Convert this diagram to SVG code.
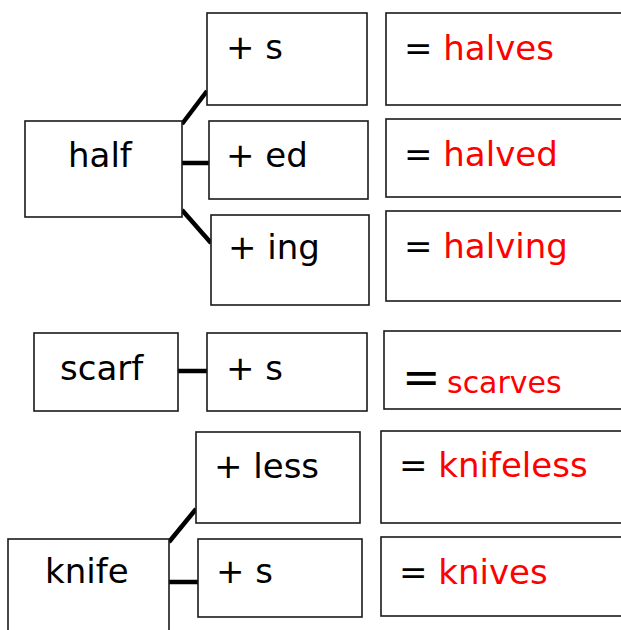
<svg xmlns="http://www.w3.org/2000/svg" width="621" height="630" viewBox="0 0 621 630">
<style>
.box{fill:#fff;stroke:#1a1a1a;stroke-width:1.6}
.t{font-family:"DejaVu Sans",sans-serif;font-size:34px;fill:#000}
.r{fill:#ff0000}
.c{stroke:#000;stroke-width:4.5;fill:none}
</style>
<rect width="621" height="630" fill="#fff"/>
<g id="connectors">
<line class="c" x1="182" y1="124" x2="207" y2="91"/>
<line class="c" x1="182" y1="163" x2="209" y2="163"/>
<line class="c" x1="182" y1="210" x2="211" y2="243"/>
<line class="c" x1="178" y1="371" x2="207" y2="371"/>
<line class="c" x1="169" y1="542" x2="196" y2="509"/>
<line class="c" x1="169" y1="582" x2="198" y2="582"/>
</g>
<g id="half"><rect class="box" x="25" y="121" width="157" height="96"/><text class="t" x="68" y="167">half</text></g>
<g id="half-s"><rect class="box" x="207" y="13" width="160" height="92"/><text class="t" x="226" y="59">+ s</text></g>
<g id="half-ed"><rect class="box" x="209" y="121" width="159" height="78"/><text class="t" x="226" y="167">+ ed</text></g>
<g id="half-ing"><rect class="box" x="211" y="215" width="158" height="90"/><text class="t" x="228" y="259">+ ing</text></g>
<g id="halves"><rect class="box" x="386" y="13" width="250" height="92"/><text class="t" x="404" y="60">= <tspan class="r">halves</tspan></text></g>
<g id="halved"><rect class="box" x="386" y="119" width="250" height="78"/><text class="t" x="404" y="166">= <tspan class="r">halved</tspan></text></g>
<g id="halving"><rect class="box" x="386" y="211" width="250" height="90"/><text class="t" x="404" y="258">= <tspan class="r">halving</tspan></text></g>
<g id="scarf"><rect class="box" x="34" y="333" width="144" height="78"/><text class="t" x="60" y="380">scarf</text></g>
<g id="scarf-s"><rect class="box" x="207" y="333" width="160" height="78"/><text class="t" x="226" y="380">+ s</text></g>
<g id="scarves"><rect class="box" x="384" y="331" width="250" height="78"/><text class="t" x="402" y="393"><tspan style="font-size:46px">=</tspan> <tspan class="r" x="447" style="font-size:30px">scarves</tspan></text></g>
<g id="knife"><rect class="box" x="8" y="539" width="161" height="100"/><text class="t" x="45" y="583">knife</text></g>
<g id="knife-less"><rect class="box" x="196" y="432" width="164" height="91"/><text class="t" x="214" y="478">+ less</text></g>
<g id="knife-s"><rect class="box" x="198" y="539" width="164" height="78"/><text class="t" x="216" y="583">+ s</text></g>
<g id="knifeless"><rect class="box" x="381" y="431" width="250" height="92"/><text class="t" x="399" y="477">= <tspan class="r">knifeless</tspan></text></g>
<g id="knives"><rect class="box" x="381" y="537" width="250" height="79"/><text class="t" x="399" y="584">= <tspan class="r">knives</tspan></text></g>
</svg>
